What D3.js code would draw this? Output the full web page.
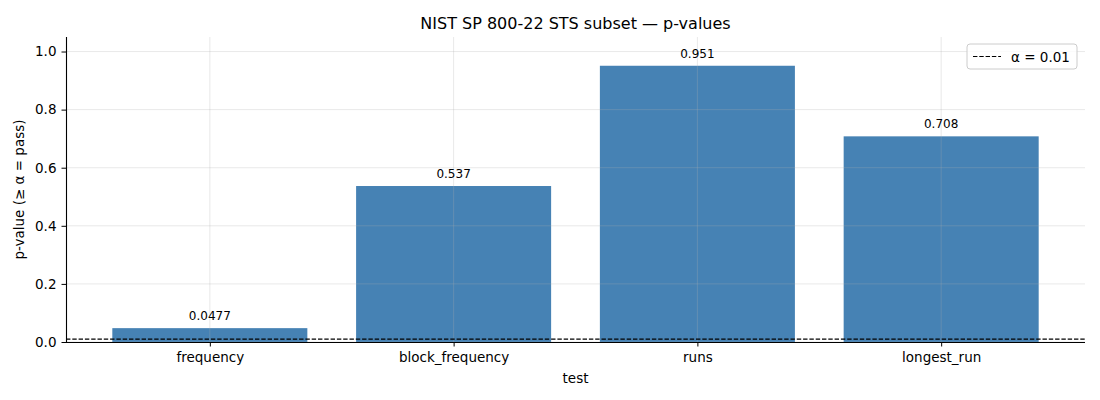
<!DOCTYPE html>
<html>
<head>
<meta charset="utf-8">
<script src="https://cdn.jsdelivr.net/npm/d3@7"></script>
<style>
  body { margin: 0; background: #fff; }
  text { font-family: "DejaVu Sans", sans-serif; }
</style>
</head>
<body>
<div id="chart"></div>
<script>
// test names and their p-values
var tests = ["frequency", "block_frequency", "runs", "longest_run"];
var pValues = [0.0477, 0.537, 0.951, 0.708];
var valueLabels = ["0.0477", "0.537", "0.951", "0.708"];
var yTicks = [0.0, 0.2, 0.4, 0.6, 0.8, 1.0];
var alpha = 0.01;

// plot area
var margin = {top: 37, right: 15, bottom: 58, left: 66},
  width = 1100 - margin.left - margin.right,
  height = 400 - margin.top - margin.bottom;

var svg = d3.select("#chart")
  .append("svg")
    .attr("width", 1100)
    .attr("height", 400);

var chart = svg.append("g")
  .attr("transform", "translate(" + margin.left + "," + margin.top + ")");

// x as a linear scale over category index so the padding matches
var x = d3.scaleLinear()
  .domain([-0.59, tests.length - 1 + 0.59])
  .range([0, width]);
var barWidth = x(0.8) - x(0);

var y = d3.scaleLinear()
  .domain([0, 1.05])
  .range([height, 0]);

// bars
chart.selectAll(".bar")
  .data(pValues)
.enter().append("rect")
  .attr("class", "bar")
  .attr("x", function(d, i) { return x(i) - barWidth / 2; })
  .attr("y", function(d) { return y(d); })
  .attr("width", barWidth)
  .attr("height", function(d) { return height - y(d); })
  .style("fill", "#4682b4");

// grid lines sit on top of the bars
chart.selectAll(".hgrid")
  .data(yTicks)
.enter().append("line")
  .attr("x1", 0).attr("x2", width)
  .attr("y1", function(d) { return y(d); })
  .attr("y2", function(d) { return y(d); })
  .style("stroke", "#b0b0b0").style("stroke-opacity", 0.35).style("stroke-width", 0.8);

chart.selectAll(".vgrid")
  .data(tests)
.enter().append("line")
  .attr("x1", function(d, i) { return x(i); })
  .attr("x2", function(d, i) { return x(i); })
  .attr("y1", 0).attr("y2", height)
  .style("stroke", "#b0b0b0").style("stroke-opacity", 0.35).style("stroke-width", 0.8);

// value labels
chart.selectAll(".label")
  .data(pValues)
.enter().append("text")
  .attr("x", function(d, i) { return x(i); })
  .attr("y", function(d) { return y(d) - 8; })
  .attr("text-anchor", "middle")
  .style("font-size", "12px")
  .style("fill", "#000")
  .text(function(d, i) { return valueLabels[i]; });

// alpha threshold
chart.append("line")
  .attr("x1", 0).attr("x2", width)
  .attr("y1", y(alpha)).attr("y2", y(alpha))
  .style("stroke", "#000").style("stroke-width", 1.2)
  .style("stroke-dasharray", "4.4,1.9");

// axes
var xAxis = d3.axisBottom(x)
  .tickValues(d3.range(tests.length))
  .tickFormat(function(d) { return tests[d]; })
  .tickSize(4.5).tickPadding(6);
var gx = chart.append("g")
  .attr("transform", "translate(0," + height + ")")
  .call(xAxis);
gx.select(".domain").attr("d", "M0,0.5H" + width);

var yAxis = d3.axisLeft(y)
  .tickValues(yTicks)
  .tickFormat(d3.format(".1f"))
  .tickSize(4.5).tickPadding(5);
var gy = chart.append("g").call(yAxis);
gy.select(".domain").attr("d", "M0.5,0V" + height);

[gx, gy].forEach(function(g) {
  g.selectAll("text").style("font-size", "13.5px").style("fill", "#000")
    .style("font-family", "DejaVu Sans, sans-serif");
  g.selectAll("line").style("stroke", "#000").style("stroke-width", 1);
  g.select(".domain").style("stroke", "#000").style("stroke-width", 1.1);
});

// axis titles
chart.append("text")
  .attr("x", width / 2)
  .attr("y", height + 41)
  .attr("text-anchor", "middle")
  .style("font-size", "13.5px")
  .text("test");

chart.append("text")
  .attr("transform", "rotate(-90)")
  .attr("x", -height / 2)
  .attr("y", -42)
  .attr("text-anchor", "middle")
  .style("font-size", "13.5px")
  .text("p-value (≥ α = pass)");

// title
svg.append("text")
  .attr("x", margin.left + width / 2)
  .attr("y", 29)
  .attr("text-anchor", "middle")
  .style("font-size", "16px")
  .text("NIST SP 800-22 STS subset — p-values");

// legend
var legend = chart.append("g")
  .attr("transform", "translate(" + (width - 118) + ",7)");
legend.append("rect")
  .attr("width", 110).attr("height", 25).attr("rx", 3)
  .style("fill", "#fff").style("fill-opacity", 0.8)
  .style("stroke", "#ccc").style("stroke-width", 1);
legend.append("line")
  .attr("x1", 6).attr("x2", 34).attr("y1", 12.5).attr("y2", 12.5)
  .style("stroke", "#000").style("stroke-width", 1.2)
  .style("stroke-dasharray", "4.4,1.9");
legend.append("text")
  .attr("x", 44).attr("y", 17.5)
  .style("font-size", "13.5px")
  .text("α = 0.01");
</script>
</body>
</html>
